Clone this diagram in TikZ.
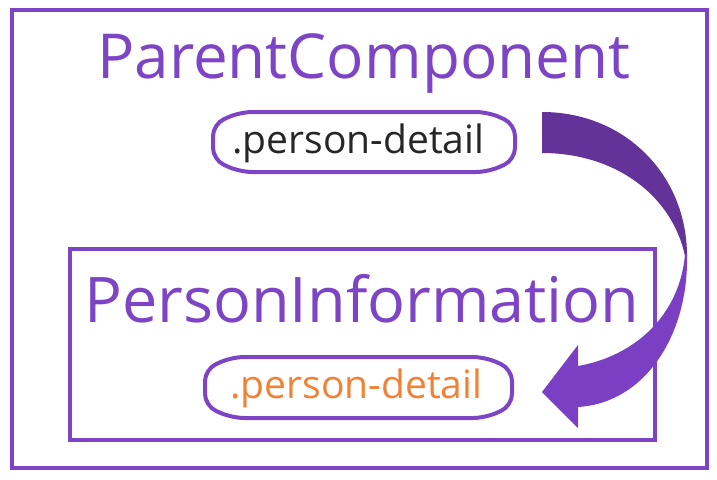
\documentclass[tikz,border=0pt]{standalone}
\usepackage{fontspec}
\setmainfont{Open Sans}
\definecolor{frame}{HTML}{7E44C6}
\definecolor{arrdark}{HTML}{643399}
\definecolor{arrlight}{HTML}{7B3FC3}
\definecolor{orangetxt}{HTML}{F08236}
\definecolor{darktxt}{HTML}{262626}
\tikzset{
  boxline/.style={draw=frame, line width=3pt},
  pill/.style={draw=frame, line width=3pt, rounded corners=9pt},
  bigtitle/.style={text=frame, inner sep=0pt, anchor=base west},
  pilltext/.style={inner sep=0pt, anchor=base west},
}
\begin{document}
\begin{tikzpicture}[x=0.75pt,y=-0.75pt]
\useasboundingbox (0,0) rectangle (717,479);
% frames
\draw[boxline] (12,10) rectangle (707,468);
\draw[boxline] (70,249) rectangle (655,440);
% titles
\node[bigtitle, font=\fontsize{46.5}{50}\selectfont] (parent) at (97,78) {ParentComponent};
\node[bigtitle, font=\fontsize{47.2}{52}\selectfont] (person) at (84,322) {PersonInformation};
% pills
\draw[pill] (240,112) -- (488,112) -- (515,124) -- (515,160) -- (488,172) -- (240,172) -- (213,160) -- (213,124) -- cycle;
\node[pilltext, text=darktxt, font=\fontsize{29.3}{32}\selectfont] (t1) at (232,153) {.person-detail};
\draw[pill] (232,357) -- (485,357) -- (512,369) -- (512,406) -- (485,418) -- (232,418) -- (205,406) -- (205,369) -- cycle;
\node[pilltext, text=orangetxt, font=\fontsize{29.3}{32}\selectfont] (t2) at (230,398) {.person-detail};
% curved arrow
\fill[arrdark] (542,112) .. controls (625,112) and (687,175) .. (687,256)
  -- (685,256) .. controls (672,195) and (615,153) .. (542,153) -- cycle;
\fill[arrlight] (687,254) .. controls (689,335) and (645,403) .. (578,407)
  -- (578,428) -- (542,392) -- (578,345) -- (578,366)
  .. controls (635,356) and (680,315) .. (685,254) -- cycle;
\end{tikzpicture}
\end{document}
